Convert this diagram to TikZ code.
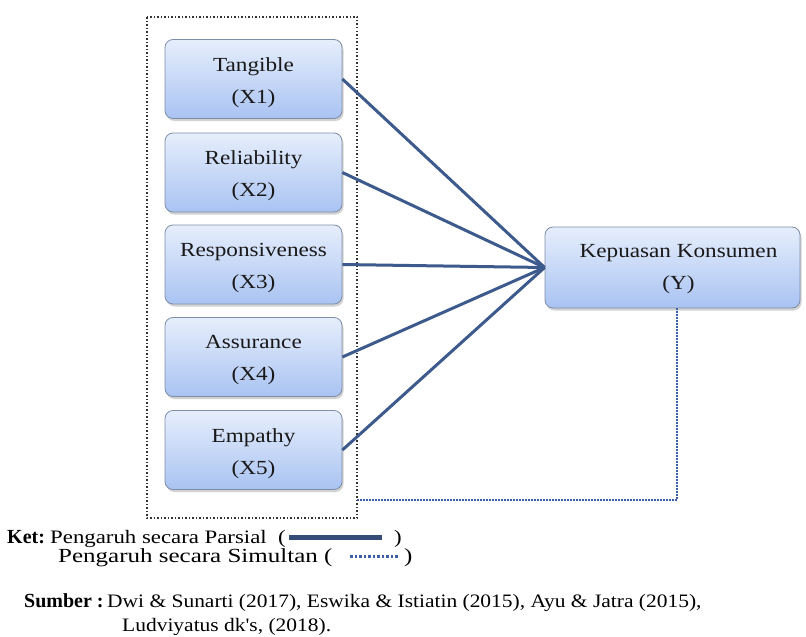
\documentclass[tikz,border=0pt]{standalone}
\usepackage{fontspec}
\setmainfont{Liberation Serif}
\newfontfamily\bxfont[FakeStretch=1.16]{Liberation Serif}
\newfontfamily\lgafont[FakeStretch=1.2]{Liberation Serif}
\newfontfamily\lgbfont[FakeStretch=1.25]{Liberation Serif}
\newfontfamily\srcfont[FakeStretch=1.13]{Liberation Serif}
\newfontfamily\boldfont{Liberation Serif Bold}
\usetikzlibrary{shadows}
\definecolor{lineblue}{HTML}{3D5A8C}
\definecolor{dotblue}{HTML}{3B5FA8}
\definecolor{boxtop}{HTML}{E6EEFC}
\definecolor{boxbot}{HTML}{A9C3F2}
\definecolor{boxedge}{HTML}{7E8EA8}
\tikzset{
  vbox/.style={draw=boxedge, line width=0.8pt, rounded corners=8pt,
    top color=boxtop, bottom color=boxbot,
    drop shadow={opacity=0.35, shadow xshift=1.5pt, shadow yshift=-2.5pt},
    inner sep=0pt},
  xbox/.style={vbox, minimum width=177pt, minimum height=79pt},
  boxtext/.style={font=\bxfont\fontsize{20}{32}\selectfont, align=center,
    text=black!90, inner sep=0pt},
  partial/.style={draw=lineblue, line width=3pt},
  simul/.style={draw=dotblue, line width=2pt, dash pattern=on 1.5pt off 1.5pt},
  frame/.style={draw=black!80, line width=1.5pt, dash pattern=on 1.5pt off 2pt},
  lg/.style={anchor=base west, inner sep=0pt},
  lgbold/.style={lg, font=\boldfont\fontsize{20}{22}\selectfont},
}
\begin{document}
\begin{tikzpicture}[x=1pt,y=-1pt]
\useasboundingbox[fill=white] (0,0) rectangle (806,637);
\draw[frame] (147,17) rectangle (357,518);
\node[xbox] (x1) at (253.5,79) {};
\node[xbox] (x2) at (253.5,172.5) {};
\node[xbox] (x3) at (253.5,264.5) {};
\node[xbox] (x4) at (253.5,357) {};
\node[xbox] (x5) at (253.5,450) {};
\node[vbox, minimum width=255pt, minimum height=81pt] (y) at (672.5,267.5) {};
\node[boxtext] (t1) at ([yshift=-3.5pt]x1.center) {Tangible\\(X1)};
\node[boxtext] (t2) at ([yshift=-3.5pt]x2.center) {Reliability\\(X2)};
\node[boxtext] (t3) at ([yshift=-3.5pt]x3.center) {Responsiveness\\(X3)};
\node[boxtext] (t4) at ([yshift=-3.5pt]x4.center) {Assurance\\(X4)};
\node[boxtext] (t5) at ([yshift=-3.5pt]x5.center) {Empathy\\(X5)};
\node[boxtext] (ty) at ([xshift=6pt,yshift=-2pt]y.center) {Kepuasan Konsumen\\(Y)};
\foreach \i in {1,...,5} \draw[partial] (x\i.east) -- (y.west);
\coordinate (corner) at (677,500);
\coordinate (frameR) at (357,500);
\draw[simul] (y.south -| corner) -- (corner) -- (frameR);
% legend
\node[lgbold] (ket) at (7,543) {Ket:};
\node[lg, font=\lgafont\fontsize{19}{22}\selectfont] (p1) at (50,543) {Pengaruh secara Parsial \ (};
\node[lg, font=\lgafont\fontsize{19}{22}\selectfont] (p1c) at (394,543) {)};
\coordinate (l1a) at (289,537);
\coordinate (l1b) at (382,537);
\draw[draw=lineblue!85!black, line width=5pt] (l1a) -- (l1b);
\node[lg, font=\lgbfont\fontsize{20}{22}\selectfont] (p2) at (58,562) {Pengaruh secara Simultan (};
\node[lg, font=\lgbfont\fontsize{20}{22}\selectfont] (p2c) at (404,562) {)};
\coordinate (l2a) at (350,556);
\coordinate (l2b) at (398,556);
\draw[draw=dotblue, line width=3pt, dash pattern=on 2.5pt off 2pt] (l2a) -- (l2b);
\node[lgbold] (sb) at (24,607) {Sumber :};
\node[lg, font=\srcfont\fontsize{19}{22}\selectfont] (s1) at (107,607) {Dwi \& Sunarti (2017), Eswika \& Istiatin (2015), Ayu \& Jatra (2015),};
\node[lg, font=\srcfont\fontsize{19}{22}\selectfont] (s2) at (122,631) {Ludviyatus dk's, (2018).};
\end{tikzpicture}
\end{document}
